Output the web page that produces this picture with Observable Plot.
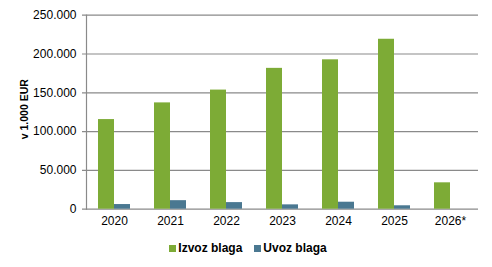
<!DOCTYPE html>
<html>
<head>
<meta charset="utf-8">
<script src="https://cdn.jsdelivr.net/npm/d3@7"></script>
<script src="https://cdn.jsdelivr.net/npm/@observablehq/plot@0.6"></script>
<style>
  html, body { margin: 0; padding: 0; background: #fff; }
  body { width: 492px; height: 267px; overflow: hidden; font-family: "Liberation Sans", Arial, sans-serif; }
  .legend { display: flex; justify-content: center; align-items: center; height: 24px; font-size: 12px; font-weight: bold; color: #000; padding-left: 4px; }
  .item { display: flex; align-items: center; margin: 0 6px; }
  .sw { width: 7px; height: 7px; margin-right: 2px; margin-top: 1px; }
</style>
</head>
<body>
<div id="chart"></div>
<div class="legend" id="legend"></div>
<script>
const years = ["2020", "2021", "2022", "2023", "2024", "2025", "2026*"];
const series = ["Izvoz blaga", "Uvoz blaga"];
const izvoz = [115500, 137000, 153500, 181500, 192500, 219000, 34000];
const uvoz = [6000, 11000, 8500, 5600, 9000, 4400, null];
const colors = ["#7dab36", "#4a7891"];
const yTicks = [0, 50000, 100000, 150000, 200000, 250000];

const izvozData = years.map((y, i) => ({year: y, value: izvoz[i]}));
const uvozData = years.map((y, i) => ({year: y, value: uvoz[i]})).filter(d => d.value != null);

const fmt = d => d3.format(",")(d).replace(/,/g, ".");

const chart = Plot.plot({
  width: 492,
  height: 236,
  marginLeft: 86,
  marginRight: 14,
  marginTop: 14.7,
  marginBottom: 27.3,
  style: {fontFamily: "Liberation Sans, Arial, sans-serif", fontSize: "12px", color: "#000", background: "#fff"},
  x: {domain: years, paddingInner: 0.43, paddingOuter: 0.215, label: null},
  y: {domain: [0, 250000], label: null},
  marks: [
    Plot.ruleY(yTicks, {stroke: "#8a8a8a", strokeWidth: 1.2, insetLeft: -4}),
    Plot.frame({anchor: "left", stroke: "#8a8a8a", strokeWidth: 1.2}),
    Plot.barY(izvozData, {x: "year", y: "value", fill: colors[0], insetRight: 16}),
    Plot.barY(uvozData, {x: "year", y: "value", fill: colors[1], insetLeft: 16}),
    Plot.axisY({ticks: yTicks, tickFormat: fmt, tickSize: 0, tickPadding: 10, label: null, fontSize: 12}),
    Plot.axisX({tickSize: 0, tickPadding: 7, label: null, fontSize: 12}),
    Plot.text(["v 1.000 EUR"], {frameAnchor: "left", textAnchor: "middle", dx: -62, dy: -3, rotate: -90, fontWeight: "bold", fontSize: 10.5})
  ]
});
document.getElementById("chart").append(chart);

const legend = document.getElementById("legend");
series.forEach((s, i) => {
  const it = document.createElement("div");
  it.className = "item";
  const sw = document.createElement("div");
  sw.className = "sw";
  sw.style.background = colors[i];
  const t = document.createElement("span");
  t.textContent = s;
  it.append(sw, t);
  legend.append(it);
});
</script>
</body>
</html>
